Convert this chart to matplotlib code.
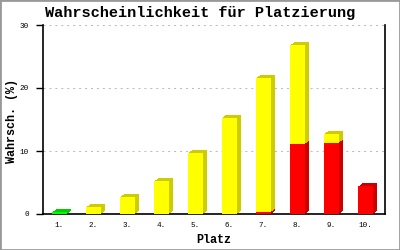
import matplotlib
matplotlib.use("Agg")
import matplotlib.pyplot as plt
import matplotlib.transforms as mtransforms
from matplotlib.patches import Rectangle
import numpy as np

categories = ["1.", "2.", "3.", "4.", "5.", "6.", "7.", "8.", "9.", "10."]
green_vals = [0.3, 0, 0, 0, 0, 0, 0, 0, 0, 0]
red_vals = [0, 0, 0, 0, 0, 0, 0.3, 11.1, 11.3, 4.4]
yellow_vals = [0, 1.1, 2.7, 5.2, 9.7, 15.3, 21.3, 15.7, 1.4, 0]
y_ticks = [0, 10, 20, 30]

title = "Wahrscheinlichkeit für Platzierung"
xlabel = "Platz"
ylabel = "Wahrsch. (%)"

MONO = ["Liberation Mono", "DejaVu Sans Mono"]

fig = plt.figure(figsize=(4, 2.5), dpi=100)
fig.patch.set_facecolor("white")
ax = fig.add_axes([43 / 400, 1 - 214 / 250, 342 / 400, 189 / 250])

x = np.arange(len(categories))
w = 0.44

green = np.array(green_vals)
red = np.array(red_vals)
yellow = np.array(yellow_vals)

series = [
    (green, np.zeros_like(green), "#00FF00", "#00CC00"),
    (red, np.zeros_like(red), "#FF0000", "#CC0000"),
    (yellow, red, "#FFFF00", "#CCCC00"),
]

# depth (3D side/top) drawn as stepped offset copies behind the fronts
steps = [(1.0, 0.75), (2.0, 1.5), (3.0, 2.25), (4.0, 3.0)]
for vals, bottom, front, dark in series:
    for dx, dy in steps:
        off = mtransforms.ScaledTranslation(dx / 100, dy / 100, fig.dpi_scale_trans)
        bars = ax.bar(x, vals, w, bottom=bottom, color=dark, linewidth=0, zorder=2)
        for b in bars:
            b.set_transform(ax.transData + off)
for vals, bottom, front, dark in series:
    ax.bar(x, vals, w, bottom=bottom, color=front, linewidth=0, zorder=3)

ax.set_xlim(-0.485, 9.575)
ax.set_ylim(0, 30)
ax.set_yticks(y_ticks)
ax.set_yticklabels([str(t) for t in y_ticks], family=MONO, fontsize=5.5)
ax.set_xticks(x)
ax.set_xticklabels(categories, family=MONO, fontsize=5.5)
ax.tick_params(axis="x", length=0, pad=6)
ax.tick_params(axis="y", length=5, width=1.0, pad=5)

for t in y_ticks[1:]:
    ax.axhline(t, color="#bbbbbb", linewidth=0.75, linestyle=(0, (1.9, 3.8)), zorder=1)

ax.spines["top"].set_visible(False)
for s in ["left", "bottom", "right"]:
    ax.spines[s].set_linewidth(1.2)
    ax.spines[s].set_color("black")
ax.spines["right"].set_bounds(0, 30)

fig.text(0.5, 1 - 13 / 250, title, ha="center", va="center", family=MONO,
         fontweight="bold", fontsize=11)
fig.text(214 / 400, 1 - 240 / 250, xlabel, ha="center", va="center", family=MONO,
         fontweight="bold", fontsize=8.5)
fig.text(12.5 / 400, 1 - 121 / 250, ylabel, ha="center", va="center", rotation=90,
         family=MONO, fontweight="bold", fontsize=8.5)

fig.patches.append(Rectangle((0, 0), 1, 1, transform=fig.transFigure, fill=False,
                             edgecolor="#999999", linewidth=2.0))

fig.savefig("out.png", dpi=100)
